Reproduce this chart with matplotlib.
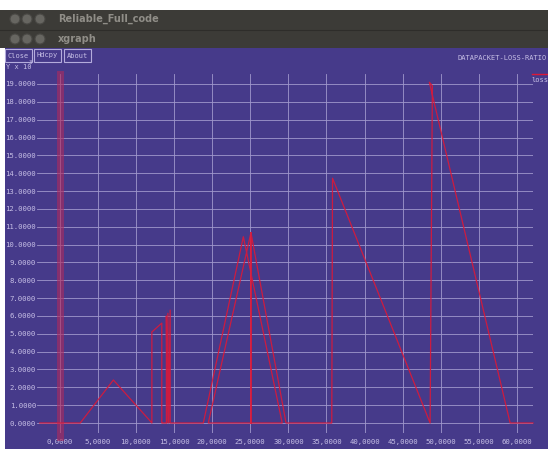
import matplotlib
matplotlib.use("Agg")
import matplotlib.pyplot as plt
from matplotlib.patches import Rectangle, Circle

W, H = 548, 451
BG = "#463a8a"
GRID = "#a098cc"
TEXT = "#c6bfe6"
RED = "#dc1838"

# loss ratio trace (x in units of 10^3, y as plotted), in drawing order
loss_x = [-2.6, 0.0, 2.7, 7.05, 11.8, 12.1, 12.1, 13.4, 13.4, 13.5, 14.0, 14.0,
          14.1, 14.2, 14.3, 14.5, 14.5, 15.5, 18.85, 24.1, 29.2, 19.5, 25.1,
          25.1, 25.1, 29.7, 35.7, 35.8, 48.6, 48.9, 48.5, 59.1, 62.1]
loss_y = [0.0, 0.0, 0.0, 2.41, 0.15, 0.0, 5.1, 5.6, 0.0, 0.0, 0.0, 6.0,
          0.0, 6.15, 0.0, 6.33, 0.0, 0.0, 0.0, 10.44, 0.0, 0.0, 10.67,
          0.0, 10.67, 0.0, 0.0, 13.72, 0.0, 18.9, 19.1, 0.0, 0.0]

x_ticks = [0, 5, 10, 15, 20, 25, 30, 35, 40, 45, 50, 55, 60]
y_ticks = list(range(0, 20))

fig = plt.figure(figsize=(W / 100, H / 100), dpi=100, facecolor="white")

# window chrome drawn in pixel coordinates
chrome = fig.add_axes([0, 0, 1, 1])
chrome.set_xlim(0, W)
chrome.set_ylim(H, 0)
chrome.axis("off")
chrome.add_patch(Rectangle((0, 10), W, 38, color="#3c3b37", lw=0))
chrome.plot([0, W], [30, 30], color="#2e2d2a", lw=0.8)
chrome.add_patch(Rectangle((5, 48), W - 5, 401, color=BG, lw=0))
for cy in (19, 39):
    for cx in (15, 27, 40):
        chrome.add_patch(Circle((cx, cy), 5, facecolor="#676661",
                                edgecolor="#4a4945", lw=0.8))
chrome.text(58, 19, "Reliable_Full_code", color="#908e88", fontsize=7,
            weight="bold", va="center", ha="left")
chrome.text(58, 39, "xgraph", color="#908e88", fontsize=7,
            weight="bold", va="center", ha="left")

mono = "DejaVu Sans Mono"
chrome.text(6, 67, "Y x 10", color=TEXT, fontsize=5, family=mono, va="center")
chrome.text(29, 63, "3", color=TEXT, fontsize=4, family=mono, va="center")
for x0, x1, label in [(5, 32, "Close"), (34, 61, "Hdcpy"), (64, 91, "About")]:
    chrome.add_patch(Rectangle((x0, 49), x1 - x0, 13, facecolor=BG,
                               edgecolor="#b4acdc", lw=0.8))
    chrome.text((x0 + x1) / 2, 55.5, label, color=TEXT, fontsize=5,
                family=mono, ha="center", va="center")
chrome.text(457, 58, "DATAPACKET-LOSS-RATIO", color=TEXT, fontsize=5,
            family=mono, ha="left", va="center")
chrome.plot([532, 548], [74, 74], color=RED, lw=1)
chrome.text(531, 80, "loss", color=TEXT, fontsize=5, family=mono,
            ha="left", va="center")

# plot area
left, right, top, bottom = 37, 533, 74, 433
ax = fig.add_axes([left / W, (H - bottom) / H, (right - left) / W, (bottom - top) / H])
ax.set_facecolor("none")
ax.set_xlim(-2.97, 62.1)
ax.set_ylim(-0.56, 19.56)
for s in ax.spines.values():
    s.set_visible(False)
ax.set_xticks(x_ticks)
ax.set_yticks(y_ticks)
ax.set_xticklabels([f"{v:.4f}".replace(".", ",") for v in x_ticks])
ax.set_yticklabels([f"{v:.4f}" for v in y_ticks])
ax.tick_params(length=0, colors=TEXT, labelsize=5.2, pad=0.6)
ax.tick_params(axis="x", pad=4.5)
for lab in ax.get_xticklabels() + ax.get_yticklabels():
    lab.set_family(mono)
ax.grid(True, color=GRID, lw=0.6)

ax.plot([0, 0], [-0.8, 19.56], color="#b02a5c", lw=5, alpha=0.6,
        clip_on=False, zorder=3)
ax.plot(loss_x, loss_y, color=RED, lw=0.9, alpha=0.9, zorder=4, clip_on=False)

fig.savefig("out.png", dpi=100, facecolor="white")
